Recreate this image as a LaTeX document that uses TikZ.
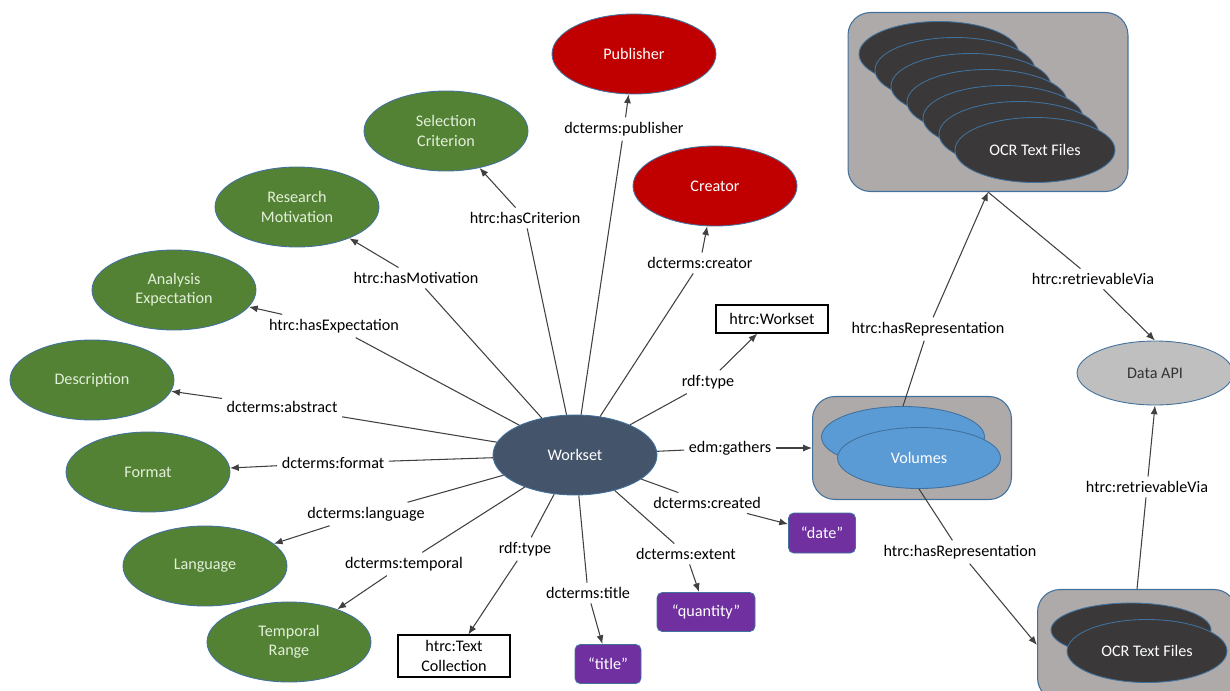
\documentclass[tikz,border=0pt]{standalone}
\usepackage{fontspec}
\setmainfont{Carlito}
\usetikzlibrary{arrows.meta,positioning,shapes.geometric}

\definecolor{ovalgreen}{HTML}{548235}
\definecolor{ovalred}{HTML}{C00000}
\definecolor{wsblue}{HTML}{44546A}
\definecolor{litpurple}{HTML}{7030A0}
\definecolor{volblue}{HTML}{5B9BD5}
\definecolor{filedark}{HTML}{3A3838}
\definecolor{groupgray}{HTML}{AEAAAA}
\definecolor{apigray}{HTML}{BFBFBF}
\definecolor{edgeblue}{HTML}{41719C}
\definecolor{paletext}{HTML}{E2F0D9}

\begin{document}
\begin{tikzpicture}[
    x=0.02cm, y=-0.02cm,
    every node/.style={font=\fontsize{9.2}{11}\selectfont},
    concept/.style={ellipse, draw=edgeblue, line width=0.5pt, minimum width=3.28cm,
      minimum height=1.6cm, inner sep=0pt, align=center},
    attr/.style={concept, fill=ovalgreen, text=paletext},
    agent/.style={concept, fill=ovalred, text=white},
    classbox/.style={rectangle, draw=black, fill=white, line width=0.6pt, align=center,
      inner sep=2pt},
    literal/.style={rectangle, rounded corners=3pt, draw=edgeblue, line width=0.5pt,
      fill=litpurple, text=white, minimum height=0.78cm},
    group/.style={rectangle, rounded corners=0.45cm, draw=edgeblue, line width=0.6pt,
      fill=groupgray},
    files/.style={ellipse, draw=edgeblue, line width=0.5pt, fill=filedark, text=white!90,
      minimum width=3.2cm, minimum height=1.3cm, inner sep=0pt},
    vol/.style={ellipse, draw=edgeblue, line width=0.5pt, fill=volblue, text=white,
      minimum width=3.26cm, minimum height=1.22cm, inner sep=0pt},
    rel/.style={inner sep=2.5pt},
    link/.style={draw=black!75, line width=0.6pt},
    arr/.style={link, -{Latex[length=5pt, width=4pt]}}
  ]
  \useasboundingbox (0,0) rectangle (1230,690);

  %% Central node
  \node[concept, fill=wsblue, text=white] (ws) at (575,455) {Workset};

  %% Green attribute nodes
  \node[attr] (crit) at (446,131) {Selection\\Criterion};
  \node[attr] (motiv) at (297,207) {Research\\Motivation};
  \node[attr] (expect) at (174,290) {Analysis\\Expectation};
  \node[attr] (descr) at (92,380) {Description};
  \node[attr] (format) at (148,472) {Format};
  \node[attr] (lang) at (205,566) {Language};
  \node[attr] (temp) at (289,642) {Temporal\\Range};

  %% Red agent nodes
  \node[agent] (pub) at (634,54) {Publisher};
  \node[agent] (creator) at (715,186) {Creator};

  %% Classes and literals
  \node[classbox, minimum width=2.24cm, minimum height=0.56cm] (wsclass) at (772,319) {htrc:Workset};
  \node[classbox, minimum width=2.24cm, minimum height=0.84cm] (tcclass) at (454,656) {htrc:Text\\Collection};
  \node[literal, minimum width=1.34cm, minimum height=0.8cm] (date) at (822,533) {“date”};
  \node[literal, minimum width=1.96cm] (qty) at (706,612) {“quantity”};
  \node[literal, minimum width=1.32cm] (title) at (608,664) {“title”};

  %% Volumes group
  \node[group, minimum width=3.98cm, minimum height=2.06cm] (volgrp) at (912,448) {};
  \node[vol] (volback) at (903,437) {};
  \node[vol] (volfront) at (919,458) {Volumes};

  %% OCR text files (top stack)
  \node[group, minimum width=5.6cm, minimum height=3.58cm] (topgrp) at (988,102) {};
  \foreach \i in {0,...,5}
    \node[files] (stack\i) at (939+16*\i,54+16*\i) {};
  \node[files] (topfiles) at (1035,150) {OCR Text Files};

  %% OCR text files (bottom pair)
  \node[group, minimum width=3.98cm, minimum height=2.22cm] (lowgrp) at (1137,645) {};
  \node[files, minimum height=1.08cm] (lowback) at (1131,630) {};
  \node[files, minimum height=1.26cm] (lowfiles) at (1147,651) {OCR Text Files};

  %% Data API
  \node[concept, fill=apigray, text=black!80, minimum width=3.12cm, minimum height=1.28cm] (api) at (1155,373) {Data API};

  %% Property labels
  \node[rel] (lpub) at (624,129) {dcterms:publisher};
  \node[rel] (lcrit) at (525,218) {htrc:hasCriterion};
  \node[rel] (lcreator) at (700,263) {dcterms:creator};
  \node[rel] (lmotiv) at (416,278) {htrc:hasMotivation};
  \node[rel] (lexpect) at (334,326) {htrc:hasExpectation};
  \node[rel] (ltype) at (708,382) {rdf:type};
  \node[rel] (labs) at (282,407) {dcterms:abstract};
  \node[rel] (lformat) at (333,463) {dcterms:format};
  \node[rel] (lgath) at (730,448) {edm:gathers};
  \node[rel] (llang) at (366,514) {dcterms:language};
  \node[rel] (lcreated) at (707,503) {dcterms:created};
  \node[rel] (ltemp) at (404,564) {dcterms:temporal};
  \node[rel] (ltype2) at (525,549) {rdf:type};
  \node[rel] (lextent) at (686,554) {dcterms:extent};
  \node[rel] (ltitle) at (588,593) {dcterms:title};
  \node[rel] (lrep) at (928,329) {htrc:hasRepresentation};
  \node[rel] (lvia) at (1093,279) {htrc:retrievableVia};
  \node[rel] (lrep2) at (960,552) {htrc:hasRepresentation};
  \node[rel] (lvia2) at (1147,487) {htrc:retrievableVia};

  %% Workset properties
  \foreach \l/\t in {lpub/pub, lcrit/crit, lcreator/creator, lmotiv/motiv,
      lexpect/expect, ltype/wsclass, labs/descr, lformat/format, lgath/volgrp,
      llang/lang, lcreated/date, ltemp/temp, ltype2/tcclass, lextent/qty,
      ltitle/title} {
    \draw[link] (ws) -- (\l);
    \draw[arr] (\l) -- (\t);
  }

  %% Volumes and representations
  \draw[link] (volback.north) -- (lrep);
  \draw[arr] (lrep) -- (topgrp.south);
  \draw[link] (topgrp.south) -- (lvia);
  \draw[arr] (lvia) -- (api.north);
  \draw[link] (volfront.south) -- (lrep2);
  \draw[arr] (lrep2) -- (lowgrp.west);
  \draw[link] (lowgrp.north) -- (lvia2);
  \draw[arr] (lvia2) -- (api.south);

\end{tikzpicture}
\end{document}
